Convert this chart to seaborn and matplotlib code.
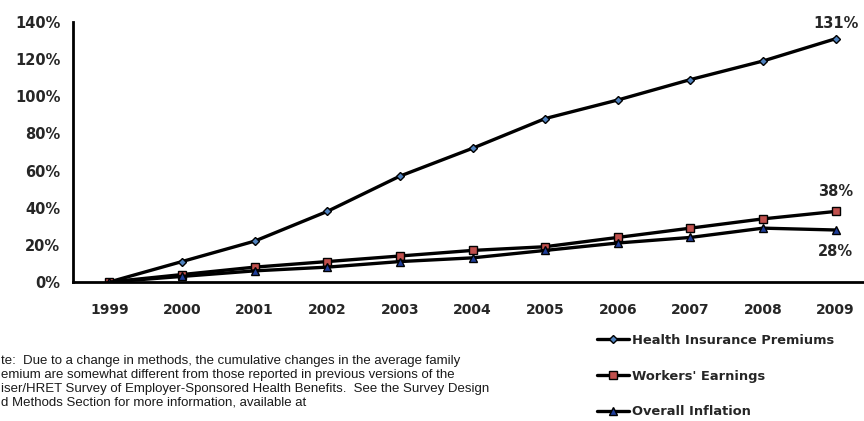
import matplotlib
matplotlib.use("Agg")
import matplotlib.pyplot as plt
import seaborn as sns
import pandas as pd

# cumulative change since 1999 (%)
years = ["1999", "2000", "2001", "2002", "2003", "2004", "2005", "2006", "2007", "2008", "2009"]
premiums = [0, 11, 22, 38, 57, 72, 88, 98, 109, 119, 131]
earnings = [0, 4, 8, 11, 14, 17, 19, 24, 29, 34, 38]
inflation = [0, 3, 6, 8, 11, 13, 17, 21, 24, 29, 28]

series_names = ["Health Insurance Premiums", "Workers' Earnings", "Overall Inflation"]
# note is cut at the left edge in the original image
note_lines = [
    "te:  Due to a change in methods, the cumulative changes in the average family",
    "emium are somewhat different from those reported in previous versions of the",
    "iser/HRET Survey of Employer-Sponsored Health Benefits.  See the Survey Design",
    "d Methods Section for more information, available at",
]

sns.set_style("white")
plt.rcParams['font.family'] = ['DejaVu Sans']

fig = plt.figure(figsize=(8.64, 4.21), dpi=100)
ax = fig.add_axes([73 / 864, 1 - 282 / 421, 799 / 864, 260 / 421])

pos = list(range(len(years)))
styles = [
    (premiums, "D", "#4f81bd", 4),
    (earnings, "s", "#c0504d", 6),
    (inflation, "^", "#1f3d99", 5.5),
]
for (vals, mk, col, ms), name in zip(styles, series_names):
    df = pd.DataFrame({"x": pos, "y": vals})
    sns.lineplot(data=df, x="x", y="y", ax=ax, color="black", linewidth=2.4,
                 marker=mk, markersize=ms, markerfacecolor=col,
                 markeredgecolor="black", markeredgewidth=1.0, label=name)

ax.set_xlim(-0.5, 10.5)
ax.set_ylim(0, 140)
ax.set_xlabel("")
ax.set_ylabel("")

ax.set_yticks(range(0, 141, 20))
ax.set_yticklabels([f"{v}%" for v in range(0, 141, 20)], fontsize=10.5, fontweight="bold")
ax.set_xticks([p - 0.5 for p in pos] + [10.5])
ax.set_xticklabels([])
ax.set_xticks(pos, minor=True)
ax.set_xticklabels(years, minor=True, fontsize=10, fontweight="bold")
ax.tick_params(axis="x", which="major", direction="out", length=5, width=1.8, color="black")
ax.tick_params(axis="x", which="minor", length=0, pad=15)
ax.tick_params(axis="y", direction="out", length=6, width=1.8, color="black", pad=3)

for side in ["top", "right"]:
    ax.spines[side].set_visible(False)
for side in ["left", "bottom"]:
    ax.spines[side].set_color("black")
    ax.spines[side].set_linewidth(2)

ax.text(10, premiums[-1] + 4, f"{premiums[-1]}%", ha="center", va="bottom",
        fontsize=10.5, fontweight="bold")
ax.text(10, earnings[-1] + 6.5, f"{earnings[-1]}%", ha="center", va="bottom",
        fontsize=10.5, fontweight="bold")
ax.text(10, inflation[-1] - 7.5, f"{inflation[-1]}%", ha="center", va="top",
        fontsize=10.5, fontweight="bold")

handles, labels = ax.get_legend_handles_labels()
ax.get_legend().remove()
fig.legend(handles, labels, loc="upper left", bbox_to_anchor=(585 / 864, 1 - 322 / 421),
           frameon=False, handlelength=2.5, handletextpad=0.2, labelspacing=1.75,
           prop={"size": 9.4, "weight": "bold"})

fig.text(1 / 864, 1 - 355 / 421, "\n".join(note_lines), ha="left", va="top",
         fontsize=9.5, family="Liberation Sans", color="#1a1a1a", linespacing=1.22)

fig.savefig("out.png", dpi=100)
